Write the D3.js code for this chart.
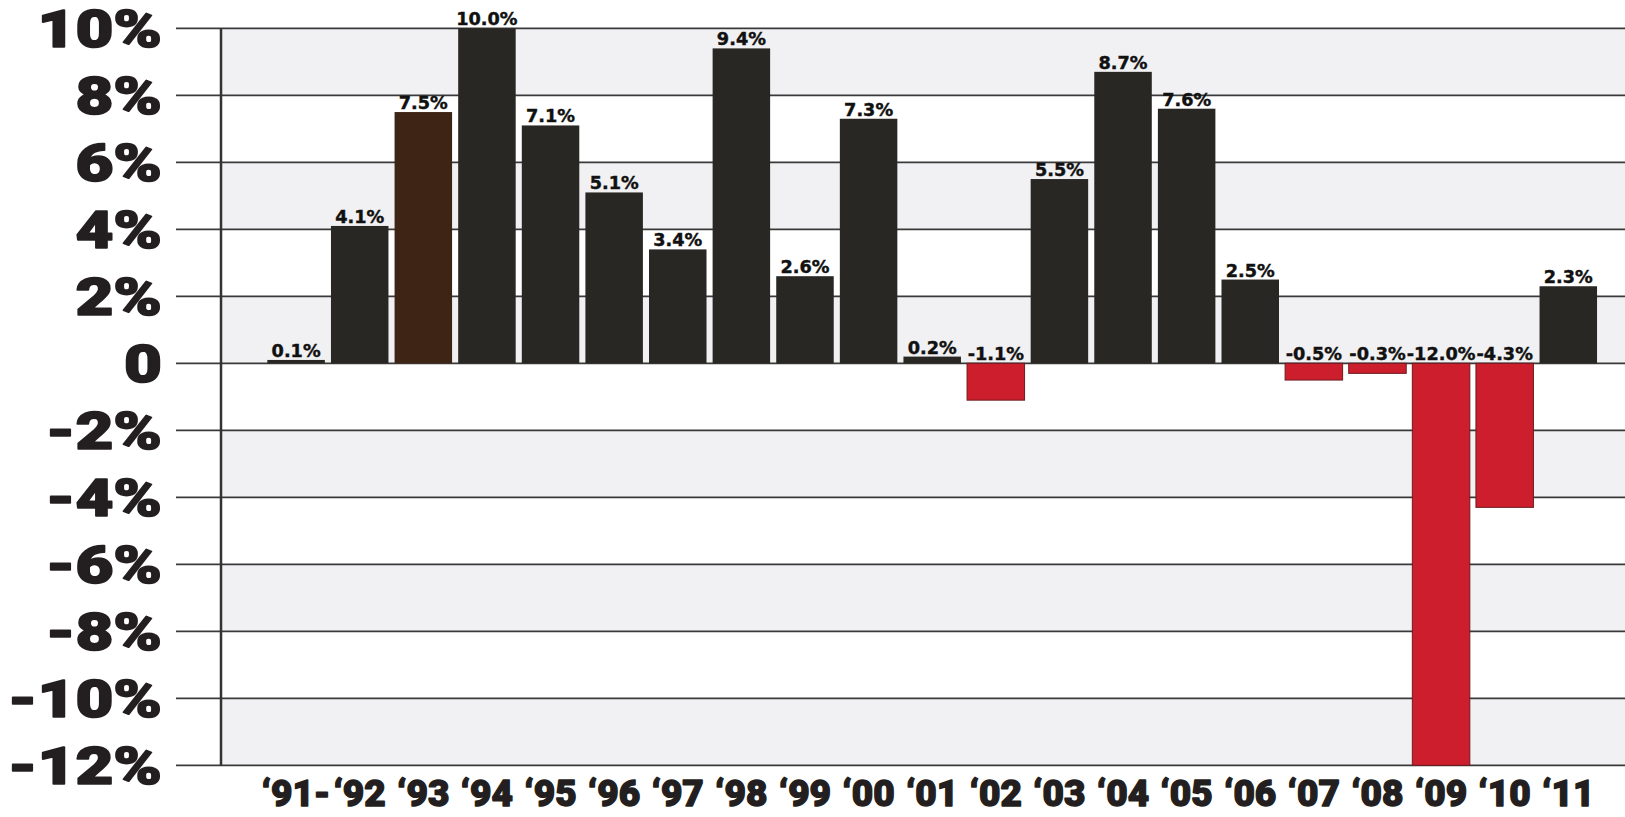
<!DOCTYPE html>
<html>
<head>
<meta charset="utf-8">
<script src="https://cdn.jsdelivr.net/npm/d3@7"></script>
<style>
  html, body { margin: 0; padding: 0; background: #ffffff; }
  svg { display: block; }
</style>
</head>
<body>
<svg id="chart" width="1625" height="817"></svg>
<script>
// Annual percentage change, '91 through '11
const years = ["\u201891-", "\u201892", "\u201893", "\u201894", "\u201895", "\u201896", "\u201897",
               "\u201898", "\u201899", "\u201800", "\u201801", "\u201802", "\u201803", "\u201804",
               "\u201805", "\u201806", "\u201807", "\u201808", "\u201809", "\u201810", "\u201811"];
const changes = [0.1, 4.1, 7.5, 10.0, 7.1, 5.1, 3.4, 9.4, 2.6, 7.3, 0.2, -1.1,
                 5.5, 8.7, 7.6, 2.5, -0.5, -0.3, -12.0, -4.3, 2.3];
const highlightYear = "\u201893";
const yTicks = [10, 8, 6, 4, 2, 0, -2, -4, -6, -8, -10, -12];

const W = 1625, H = 817;
const svg = d3.select("#chart");

const y = d3.scaleLinear().domain([-12, 10]).range([765.3, 28.3]);
const x = d3.scaleBand().domain(years).range([264.3, 1600.1])
  .paddingInner(0.096).paddingOuter(0.048);

const plotLeft = 221, gridLeft = 176;
const ink = "#231f20";

// alternating background bands between ticks
const bands = d3.pairs(yTicks).map((p, i) => ({ top: p[0], bottom: p[1], shade: i % 2 === 0 }));
svg.append("g").selectAll("rect").data(bands).join("rect")
  .attr("x", plotLeft)
  .attr("width", W - plotLeft)
  .attr("y", d => y(d.top))
  .attr("height", d => y(d.bottom) - y(d.top))
  .attr("fill", d => d.shade ? "#f1f1f3" : "#ffffff");

// horizontal gridlines, extending left of the axis as ticks
svg.append("g").selectAll("line").data(yTicks).join("line")
  .attr("x1", gridLeft).attr("x2", W)
  .attr("y1", d => y(d)).attr("y2", d => y(d))
  .attr("stroke", "#3a3a3a")
  .attr("stroke-width", 1.8);

// vertical axis line
svg.append("line")
  .attr("x1", plotLeft).attr("x2", plotLeft)
  .attr("y1", y(10)).attr("y2", y(-12))
  .attr("stroke", "#333")
  .attr("stroke-width", 2.5);

// y tick labels
svg.append("g").selectAll("text").data(yTicks).join("text")
  .attr("transform", d => `translate(162,${y(d) + 19}) scale(1.26,1)`)
  .attr("text-anchor", "end")
  .attr("font-family", "Roboto, 'Liberation Sans', sans-serif")
  .attr("font-weight", 900)
  .attr("font-size", 52)
  .attr("fill", ink)
  .attr("stroke", ink)
  .attr("stroke-width", 1.6)
  .attr("stroke-linejoin", "round")
  .text(d => d === 0 ? "0" : d + "%");

// bars
const data = years.map((yr, i) => ({ year: yr, value: changes[i] }));
svg.append("g").selectAll("rect").data(data).join("rect")
  .attr("x", d => x(d.year))
  .attr("width", x.bandwidth())
  .attr("y", d => y(Math.max(0, d.value)))
  .attr("height", d => Math.abs(y(d.value) - y(0)))
  .attr("fill", d => d.value < 0 ? "#cc1e2d" : (d.year === highlightYear ? "#3d2414" : "#282723"))
  .attr("stroke", d => d.value < 0 ? "#6e1b1e" : "none")
  .attr("stroke-width", 1);

// value labels
svg.append("g").selectAll("text").data(data).join("text")
  .attr("transform", d => `translate(${x(d.year) + x.bandwidth() / 2},${Math.min(y(d.value), y(0)) - 3}) scale(1.04,1)`)
  .attr("text-anchor", "middle")
  .attr("font-family", "'DejaVu Sans', sans-serif")
  .attr("font-weight", "bold")
  .attr("font-size", 17)
  .attr("fill", "#111")
  .attr("stroke", "#111")
  .attr("stroke-width", 0.4)
  .text(d => d.value.toFixed(1) + "%");

// year labels
svg.append("g").selectAll("text").data(years).join("text")
  .attr("x", d => x(d) + x.bandwidth() / 2)
  .attr("y", 806)
  .attr("text-anchor", "middle")
  .attr("font-family", "Roboto, 'Liberation Sans', sans-serif")
  .attr("font-weight", 900)
  .attr("font-size", 37)
  .attr("fill", ink)
  .attr("stroke", ink)
  .attr("stroke-width", 1.4)
  .attr("stroke-linejoin", "round")
  .text(d => d);
</script>
</body>
</html>
